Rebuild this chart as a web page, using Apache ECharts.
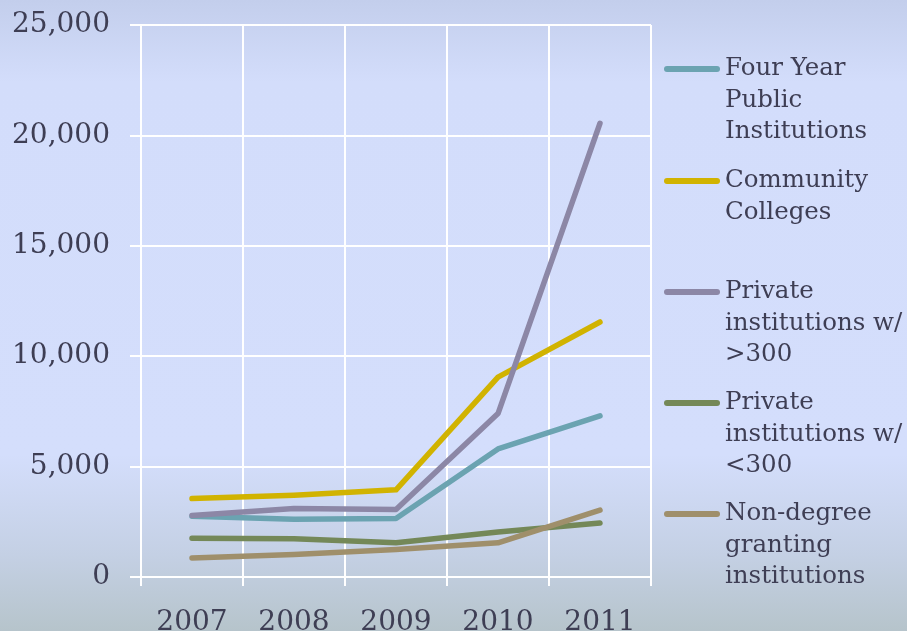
<!DOCTYPE html>
<html>
<head>
<meta charset="utf-8">
<title>Enrollment by institution type</title>
<script src="https://cdn.jsdelivr.net/npm/echarts@6/dist/echarts.min.js"></script>
<style>
  html, body { margin: 0; padding: 0; }
  #main { width: 907px; height: 631px; }
</style>
</head>
<body>
<div id="main"></div>
<script>
// data
const years = ["2007", "2008", "2009", "2010", "2011"];
const seriesNames = ["Four Year Public Institutions", "Community Colleges", "Private institutions w/ >300", "Private institutions w/ <300", "Non-degree granting institutions"];
const legendLabels = ["Four Year\nPublic\nInstitutions", "Community\nColleges", "Private\ninstitutions w/\n>300", "Private\ninstitutions w/\n<300", "Non-degree\ngranting\ninstitutions"];
const fourYearPublic = [2750, 2620, 2650, 5800, 7300];
const communityColleges = [3550, 3700, 3950, 9050, 11550];
const privateOver300 = [2780, 3100, 3060, 7400, 20550];
const privateUnder300 = [1750, 1730, 1550, 2040, 2450];
const nonDegree = [860, 1020, 1250, 1550, 3030];
const yTicks = [0, 5000, 10000, 15000, 20000, 25000];

const colors = ["#6ba3b1", "#d1b300", "#8c87a6", "#748858", "#9f8f6b"];
const seriesData = [fourYearPublic, communityColleges, privateOver300, privateUnder300, nonDegree];

const textColor = "#3e3e54";
const font = "DejaVu Serif";

let myChart = echarts.init(document.getElementById("main"));

// legend: one small legend per item. The text is centred on the icon,
// so empty lines are put in front to bring the first real line level with it
const lh = 31.5;
const iconY = [69, 181, 292, 403, 514];
let legends = seriesNames.map((name, i) => {
  const n = legendLabels[i].split("\n").length;
  const label = "\n".repeat(n - 1) + legendLabels[i];
  return {
    data: [name],
    left: 664,
    top: iconY[i] - (2 * n - 1) * lh / 2,
    padding: 0,
    itemWidth: 56,
    itemHeight: 6,
    itemGap: 0,
    icon: "path://M3,0 L53,0 A3,3 0 0 1 53,6 L3,6 A3,3 0 0 1 3,0 Z",
    formatter: () => label,
    textStyle: {
      color: textColor,
      fontFamily: font,
      fontSize: 24.5,
      lineHeight: lh
    }
  };
});

myChart.setOption({
  animation: false,
  backgroundColor: new echarts.graphic.LinearGradient(0, 0, 0, 1, [
    { offset: 0, color: "#c3ceec" },
    { offset: 0.13, color: "#d3ddfb" },
    { offset: 0.72, color: "#d4defc" },
    { offset: 0.88, color: "#c4d0e4" },
    { offset: 1, color: "#b6c4cb" }
  ]),
  color: colors,
  legend: legends,
  grid: {
    left: 141,
    right: 256,
    top: 25,
    bottom: 54,
    containLabel: false,
    outerBoundsMode: "none"
  },
  xAxis: {
    type: "category",
    data: years,
    boundaryGap: true,
    axisLine: { lineStyle: { color: "#fff", width: 2 } },
    axisTick: { show: true, length: 9, lineStyle: { color: "#fff", width: 2 } },
    splitLine: { show: true, lineStyle: { color: "#fff", width: 2 } },
    axisLabel: {
      color: textColor,
      fontFamily: font,
      fontSize: 28,
      margin: 32
    }
  },
  yAxis: {
    type: "value",
    min: yTicks[0],
    max: yTicks[yTicks.length - 1],
    interval: 5000,
    axisLine: { show: true, lineStyle: { color: "#fff", width: 2 } },
    axisTick: { show: true, length: 11, lineStyle: { color: "#fff", width: 2 } },
    splitLine: { show: true, lineStyle: { color: "#fff", width: 2 } },
    axisLabel: {
      color: textColor,
      fontFamily: font,
      fontSize: 28,
      margin: 31,
      formatter: v => v.toLocaleString("en-US")
    }
  },
  series: seriesNames.map((name, i) => ({
    name: name,
    type: "line",
    data: seriesData[i],
    showSymbol: false,
    symbol: "none",
    lineStyle: { width: 5.5, color: colors[i], cap: "round", join: "round" },
    itemStyle: { color: colors[i] }
  }))
});
</script>
</body>
</html>
